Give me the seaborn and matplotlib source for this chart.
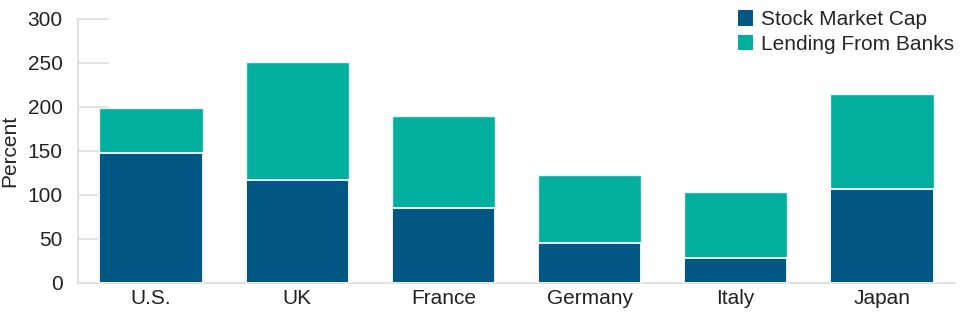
import matplotlib
matplotlib.use("Agg")
import matplotlib.pyplot as plt
import seaborn as sns
import pandas as pd
import numpy as np
from matplotlib.patches import Patch

countries = ["U.S.", "UK", "France", "Germany", "Italy", "Japan"]
stock_market_cap = [148, 117, 85, 45, 28, 107]
lending_from_banks = [51, 134, 104, 77, 75, 108]

dark_blue = "#025784"
teal = "#02AE9E"

sns.set_theme(style="white")
plt.rcParams["font.family"] = ["Liberation Sans", "DejaVu Sans"]

df = pd.DataFrame({
    "country": countries,
    "stock": stock_market_cap,
    "lending": lending_from_banks,
})
df["total"] = df["stock"] + df["lending"]

fig = plt.figure(figsize=(9.6, 3.13), dpi=100)
ax = fig.add_axes([78 / 960, (313 - 282.5) / 313, (955 - 78) / 960, (282.5 - 19) / 313])

sns.barplot(data=df, x="country", y="total", color=teal, saturation=1,
            width=0.708, edgecolor="#e8f6f4", linewidth=1.0, ax=ax, zorder=3)
sns.barplot(data=df, x="country", y="stock", color=dark_blue, saturation=1,
            width=0.708, edgecolor="white", linewidth=1.3, ax=ax, zorder=4)

ax.set_ylim(0, 300)
ax.set_xlim(-0.5, 5.5)
ax.set_yticks([0, 50, 100, 150, 200, 250, 300])
ax.set_ylabel("Percent", fontsize=15, color="#222222", labelpad=6)
ax.set_xlabel("")

for s in ["top", "right"]:
    ax.spines[s].set_visible(False)
for s in ["left", "bottom"]:
    ax.spines[s].set_color("#e0e0e0")
    ax.spines[s].set_linewidth(1.5)
    ax.spines[s].set_zorder(1)

ax.tick_params(axis="y", direction="in", length=22, width=1.3, color="#e0e0e0",
               labelsize=15, labelcolor="#222222", pad=11, left=True)
ax.tick_params(axis="x", length=0, labelsize=15, labelcolor="#222222", pad=5)
ax.grid(False)

handles = [Patch(facecolor=dark_blue, edgecolor="none", label="Stock Market Cap"),
           Patch(facecolor=teal, edgecolor="none", label="Lending From Banks")]
ax.legend(handles=handles, loc="upper right", bbox_to_anchor=(1.008, 1.065),
          frameon=False, fontsize=15, handlelength=0.75, handleheight=0.75,
          handletextpad=0.35, labelspacing=0.28, borderaxespad=0)

fig.savefig("out.png", dpi=100)
